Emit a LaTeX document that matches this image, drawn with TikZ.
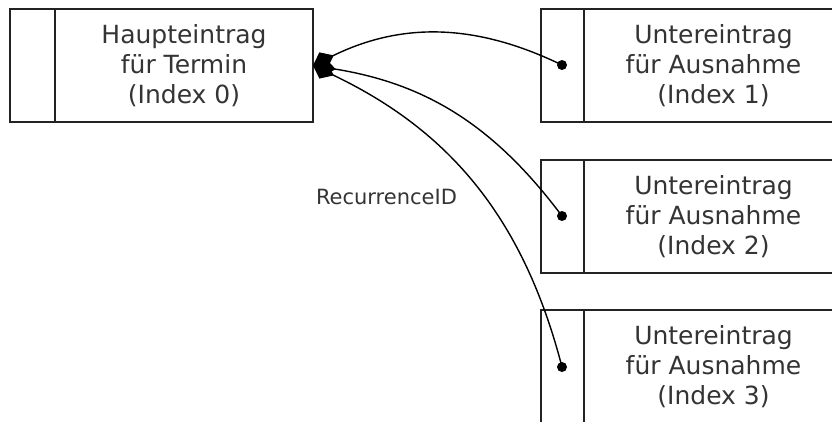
\documentclass[tikz,border=0pt]{standalone}
\usepackage{fontspec}
\setmainfont{DejaVu Sans}
\usetikzlibrary{arrows.meta}
\definecolor{txt}{RGB}{52,52,52}
\definecolor{ln}{RGB}{35,35,35}
\begin{document}
\begin{tikzpicture}[x=1pt,y=-1pt,
  box/.style={draw=ln, line width=1.6pt, minimum width=303pt, minimum height=113pt,
              anchor=north west, inner sep=0pt, outer sep=0pt},
  divider/.style={draw=ln, line width=1.6pt},
  lbl/.style={text=txt, align=center, inner sep=0pt, font=\fontsize{25}{30}\selectfont},
  small/.style={text=txt, inner sep=0pt, font=\fontsize{21}{25}\selectfont},
  link/.style={draw=black, line width=1.4pt, -{Diamond[length=23pt,width=18pt]}},
  dotc/.style={fill=black}]
\useasboundingbox (0,0) rectangle (832,421);
\fill[white] (0,0) rectangle (832,421);
\begin{scope}
\clip (0,0) rectangle (832,421);
% main entry
\node[box] (main) at (10,9) {};
\draw[divider] (55,9) -- (55,122);
\node[lbl] (mainlbl) at (184,65.5) {Haupteintrag\\für Termin\\(Index 0)};
% exception entries
\node[box] (sub1) at (541,9) {};
\draw[divider] (584,9) -- (584,122);
\node[lbl] (sub1lbl) at (713.5,65.5) {Untereintrag\\für Ausnahme\\(Index 1)};
\node[box] (sub2) at (541,160) {};
\draw[divider] (584,160) -- (584,273);
\node[lbl] (sub2lbl) at (713.5,216.5) {Untereintrag\\für Ausnahme\\(Index 2)};
\node[box] (sub3) at (541,310) {};
\draw[divider] (584,310) -- (584,423);
\node[lbl] (sub3lbl) at (713.5,366.5) {Untereintrag\\für Ausnahme\\(Index 3)};
% label
\node[small] (rid) at (386.5,197) {RecurrenceID};
% connectors
\coordinate (p1) at (562,65);
\coordinate (p2) at (562,216);
\coordinate (p3) at (562,367);
\draw[link] (p1) to[bend right=26] (main.east);
\draw[link] (p2) to[bend right=22] (main.east);
\draw[link] (p3) to[bend right=25] (main.east);
\fill[dotc] (p1) circle (5);
\fill[dotc] (p2) circle (5);
\fill[dotc] (p3) circle (5);
\end{scope}
\end{tikzpicture}
\end{document}
